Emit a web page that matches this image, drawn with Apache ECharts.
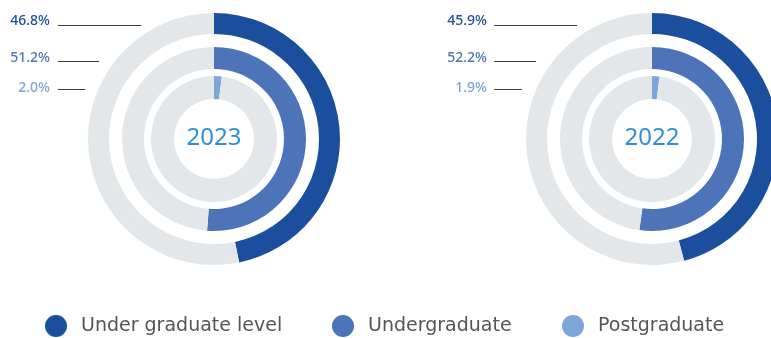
<!DOCTYPE html>
<html>
<head>
<meta charset="utf-8">
<style>
  html, body { margin: 0; padding: 0; background: #ffffff; }
  #chart { width: 771px; height: 338px; }
</style>
<script src="https://cdn.jsdelivr.net/npm/echarts@6/dist/echarts.min.js"></script>
</head>
<body>
<div id="chart"></div>
<script>
// Share of students by education level, per year (percent)
const years = ['2023', '2022'];
const levels = ['Under graduate level', 'Undergraduate', 'Postgraduate'];
const share2023 = [46.8, 51.2, 2.0];
const share2022 = [45.9, 52.2, 1.9];
const shares = [share2023, share2022];

const levelColors = ['#1b4f9d', '#4d74b9', '#7ca6d8'];
const trackColor = '#e4e7e9';
const lineColor = '#3c3c3c';

// ring geometry: [inner, outer] radius for each level
const ringRadii = [[105, 126], [70, 92], [40, 63]];
const centers = [[214, 139], [652, 139]];
// label column per chart: right edge of the text, start of the leader line
const labelX = [50, 487];
const lineStart = [58, 494];
const lineLen = [[83, 41, 27], [83, 42, 28]];
const labelY = [21, 58, 88];
const lineY = [25, 61, 89];
// left edge of each legend entry
const legendLeft = [45, 332, 562];

const chart = echarts.init(document.getElementById('chart'));

const series = [];
const graphics = [];

years.forEach((year, c) => {
  levels.forEach((lvl, i) => {
    const v = shares[c][i];
    series.push({
      type: 'pie',
      name: year + ' ' + lvl,
      center: centers[c],
      radius: ringRadii[i],
      startAngle: 90,
      clockwise: true,
      silent: true,
      animation: false,
      label: { show: false },
      labelLine: { show: false },
      itemStyle: { borderWidth: 0 },
      data: [
        { name: lvl, value: v, itemStyle: { color: levelColors[i] } },
        { name: 'rest', value: 100 - v, itemStyle: { color: trackColor } }
      ]
    });

    graphics.push({
      type: 'text',
      x: labelX[c],
      y: labelY[i],
      style: {
        text: v.toFixed(1) + '%',
        fill: levelColors[i],
        font: '500 14px "Noto Sans", sans-serif',
        textAlign: 'right',
        textVerticalAlign: 'middle'
      }
    });
    graphics.push({
      type: 'line',
      shape: {
        x1: lineStart[c], y1: lineY[i] + 0.5,
        x2: lineStart[c] + lineLen[c][i], y2: lineY[i] + 0.5
      },
      style: { stroke: lineColor, lineWidth: 1 }
    });
  });

  graphics.push({
    type: 'text',
    x: centers[c][0],
    y: centers[c][1] - 1,
    style: {
      text: year,
      fill: '#2f8fd2',
      font: '24px "Noto Sans", sans-serif',
      textAlign: 'center',
      textVerticalAlign: 'middle'
    }
  });
});

const legends = levels.map((name, i) => ({
  data: [{ name, itemStyle: { color: levelColors[i] } }],
  left: legendLeft[i],
  top: 315,
  padding: 0,
  icon: 'circle',
  itemWidth: 22,
  itemHeight: 22,
  selectedMode: false,
  textStyle: {
    color: '#555555',
    fontSize: 19,
    fontFamily: '"DejaVu Sans", sans-serif',
    padding: [0, 0, 0, 9]
  }
}));

chart.setOption({
  animation: false,
  legend: legends,
  series: series,
  graphic: graphics
});
</script>
</body>
</html>
